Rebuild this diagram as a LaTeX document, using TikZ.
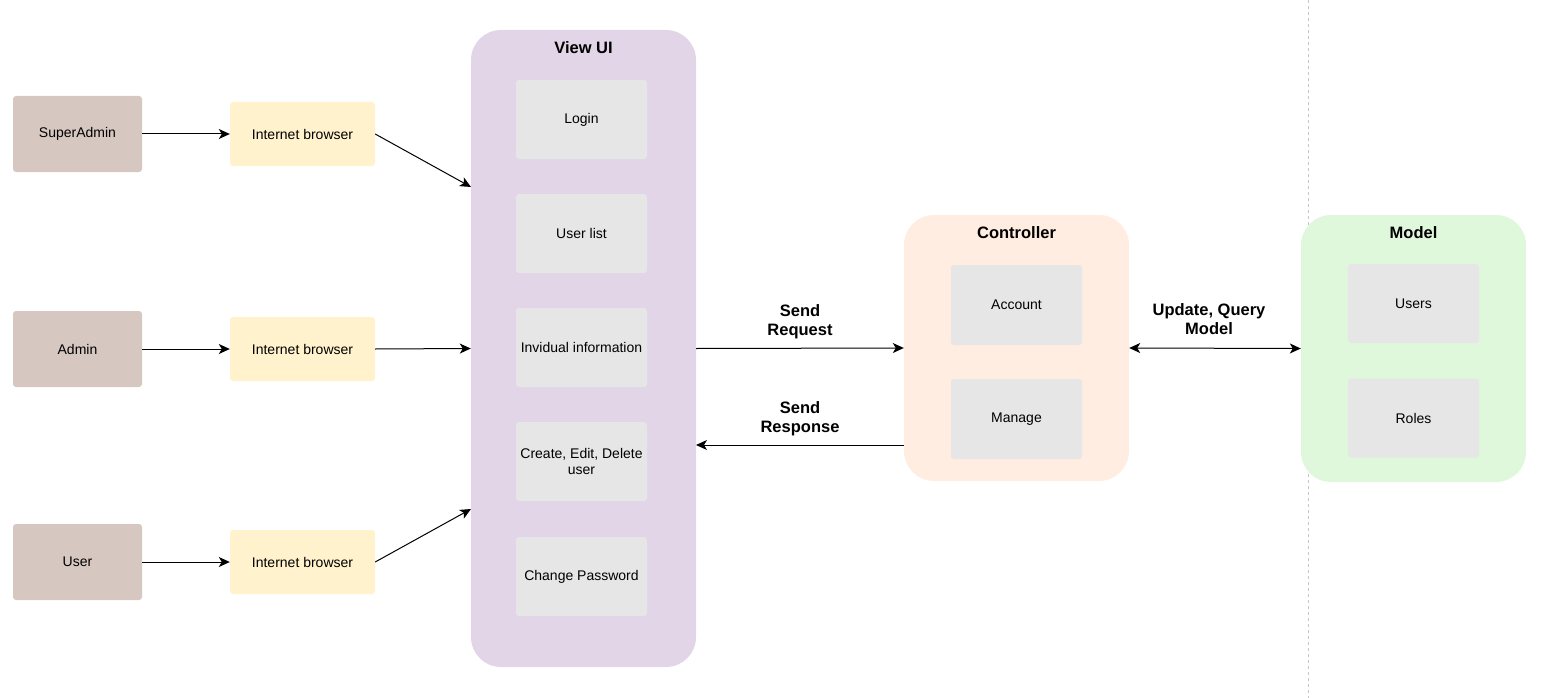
\documentclass[tikz,border=0pt]{standalone}
\usepackage{fontspec}
\setmainfont{Liberation Sans}
\usetikzlibrary{positioning,arrows,arrows.meta}

\definecolor{rolefill}{RGB}{215,199,193}
\definecolor{browserfill}{RGB}{255,242,204}
\definecolor{viewfill}{RGB}{225,213,231}
\definecolor{ctrlfill}{RGB}{254,237,224}
\definecolor{modelfill}{RGB}{223,248,220}
\definecolor{itemfill}{RGB}{230,230,230}

\tikzset{
	txt/.style={font=\fontsize{14}{16.5}\selectfont, align=center},
	role/.style={txt, rectangle, rounded corners=3pt, fill=rolefill, minimum width=129pt, minimum height=76pt},
	browser/.style={txt, rectangle, rounded corners=3pt, fill=browserfill, minimum width=145pt, minimum height=64pt},
	group/.style={rectangle, rounded corners=30pt, minimum width=225pt},
	item/.style={txt, rectangle, rounded corners=3pt, fill=itemfill, minimum width=131pt, minimum height=79pt},
	title/.style={font=\bfseries\fontsize{16.5}{19}\selectfont, align=center},
	onearrow/.style={-{Stealth[length=11pt,width=10pt,inset=3pt]}, line width=1pt},
	twoarrow/.style={{Stealth[length=11pt,width=10pt,inset=3pt]}-{Stealth[length=11pt,width=10pt,inset=3pt]}, line width=1pt}
}

\begin{document}
\begin{tikzpicture}[x=1pt,y=-1pt]
	\useasboundingbox (0,0) rectangle (1552,698);
	% separator
	\draw[gray!45, line width=0.8pt, dash pattern=on 3pt off 3pt] (1308,0) -- (1308,698);
	% containers
	\node[group, fill=viewfill, minimum height=637pt] (view) at (583.5,348.5) {};
	\node[group, fill=ctrlfill, minimum height=266pt] (ctrl) at (1016.5,348) {};
	\node[group, fill=modelfill, minimum height=267pt] (model) at (1413.5,348.5) {};
	\node[title] (viewt) at (583.5,47.5) {View UI};
	\node[title] (ctrlt) at (1016.5,232.5) {Controller};
	\node[title] (modelt) at (1413.5,232.5) {Model};
	% view items
	\node[item] (login) at (581.5,119.5) {Login};
	\node[item] (ulist) at (581.5,233.5) {User list};
	\node[item] (info) at (581.5,347.5) {Invidual information};
	\node[item] (crud) at (581.5,461.5) {Create, Edit, Delete\\user};
	\node[item] (chpw) at (581.5,576.5) {Change Password};
	% controller and model items
	\node[item, minimum height=80pt] (acc) at (1016.5,305) {Account};
	\node[item, minimum height=80pt] (man) at (1016.5,419) {Manage};
	\node[item] (users) at (1413.5,303.5) {Users};
	\node[item] (roles) at (1413.5,418) {Roles};
	% actors
	\node[role] (sadm) at (77.5,134) {SuperAdmin};
	\node[role] (adm) at (77.5,349) {Admin};
	\node[role] (usr) at (77.5,562) {User};
	\node[browser] (b1) at (302.5,134) {Internet browser};
	\node[browser] (b2) at (302.5,349) {Internet browser};
	\node[browser] (b3) at (302.5,562) {Internet browser};
	% anchor points on the container borders
	\coordinate (vin1) at (471,187);
	\coordinate (vin3) at (471,509);
	\coordinate (vout) at (696,445);
	\coordinate (cout) at (904,445);
	\path[onearrow]
	(sadm) edge (b1)
	(adm) edge (b2)
	(usr) edge (b3)
	(b1.east) edge (vin1)
	(b2.east) edge (view.west)
	(b3.east) edge (vin3)
	(view.east) edge node[title, above=5pt] {Send\\Request} (ctrl.west)
	(cout) edge node[title, above=5pt] {Send\\Response} (vout);
	\path[twoarrow]
	(ctrl.east) edge node[title, above=10pt, xshift=-6pt] {Update, Query\\Model} (model.west);
\end{tikzpicture}
\end{document}
